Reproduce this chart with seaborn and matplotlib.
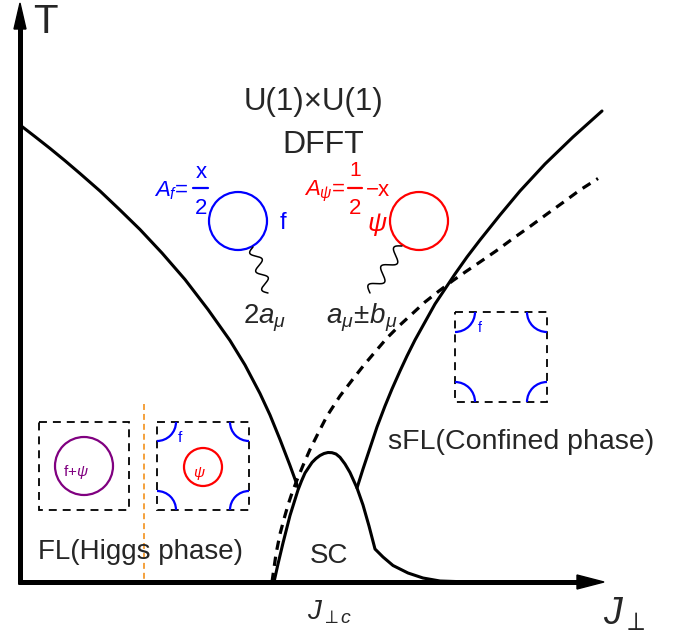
import numpy as np
import pandas as pd
import seaborn as sns
import matplotlib.pyplot as plt
from matplotlib.patches import Circle, Rectangle, Arc, Polygon
plt.switch_backend('agg')

# phase boundaries (pixel coords, y grows downward)
higgs_x = [20, 35, 50, 65, 80, 100, 120, 140, 162, 185, 208, 230, 245, 260, 270, 280, 290, 298]
higgs_y = [125, 136.6, 148.4, 160.7, 173.5, 191, 210, 229.5, 253, 279.5, 309.5, 340.5, 365, 393.5,
           415, 439.5, 465.5, 487.5]
dome_x = [274, 278, 283, 290, 298, 301.5, 305, 312, 316, 320, 324, 328, 332, 336, 340, 345, 350,
          357, 363, 369, 375, 383, 393, 408, 423, 440, 470]
dome_y = [582, 564, 543, 515.5, 490, 481, 473, 462.5, 458.5, 455.5, 453.5, 452.5, 452.7, 454,
          457.3, 464, 472.5, 488, 505, 526, 549, 557, 565.5, 573, 578, 581, 582]
conf_x = [357, 363, 370, 377, 385, 392, 400, 407, 415, 425, 435, 445, 455, 467, 480, 500, 520,
          545, 573, 602]
conf_y = [488, 469, 448, 427, 406, 389, 371, 356, 340, 322, 304, 289, 274, 257, 240, 215, 191,
          164, 137, 111]
cross_x = [272, 276, 280, 284, 288, 292, 297, 303, 310, 318, 327, 340, 353, 364, 375, 387, 400,
           412, 425, 439, 453, 466, 480, 496, 513, 530, 547, 563, 580, 598]
cross_y = [582, 554, 534, 519, 505, 493, 480, 465.5, 449.5, 433.5, 416, 396, 379, 365, 352, 338,
           325, 314, 302, 291, 280.5, 271.5, 262, 251, 238.5, 226.5, 214, 202.5, 190, 178.5]

# fermi surfaces
big_circles = [(238, 221, 29, 'blue'), (419, 221, 29, 'red')]
boxes = [(39, 422, 90, 88), (157, 422, 92, 88), (455, 312, 92, 90)]
box_circles = [(84, 466, 29, 'purple'), (203, 467, 19, 'red')]
pocket_r = [None, 19, 20]

sns.set_theme(style='white')
plt.rcParams['font.family'] = ['Liberation Sans', 'DejaVu Sans']
plt.rcParams['mathtext.fontset'] = 'custom'
plt.rcParams['mathtext.rm'] = 'Liberation Sans'
plt.rcParams['mathtext.it'] = 'Liberation Sans:italic'
plt.rcParams['mathtext.fallback'] = 'stixsans'

fig = plt.figure(figsize=(6.83, 6.39), dpi=100)
ax = fig.add_axes([0, 0, 1, 1])

df_solid = pd.concat([
    pd.DataFrame({'x': higgs_x, 'y': higgs_y, 'curve': 'higgs'}),
    pd.DataFrame({'x': dome_x, 'y': dome_y, 'curve': 'dome'}),
    pd.DataFrame({'x': conf_x, 'y': conf_y, 'curve': 'conf'}),
])
df_dash = pd.DataFrame({'x': cross_x, 'y': cross_y})

# orange separator
ax.plot([144, 144], [404, 584], color='#F39A2E', lw=1.3, ls=(0, (3.3, 2.2)))

sns.lineplot(data=df_solid, x='x', y='y', units='curve', estimator=None, sort=False,
             color='black', lw=2.2, ax=ax)
sns.lineplot(data=df_dash, x='x', y='y', estimator=None, sort=False,
             color='black', lw=2.3, ls=(0, (2.9, 2.2)), ax=ax)

# axes with arrows
ax.plot([20, 20], [584, 26], color='black', lw=3.6, solid_capstyle='butt')
ax.plot([18, 580], [582, 582], color='black', lw=3.6, solid_capstyle='butt')
ax.add_patch(Polygon([[20, 3], [14, 29], [26, 29]], closed=True, color='black'))
ax.add_patch(Polygon([[604, 582], [577, 575], [577, 589]], closed=True, color='black'))
ax.text(45, 22, 'T', fontsize=29, ha='center', va='center')
ax.text(603, 625, r'$J_{\perp}$', fontsize=27, ha='left', va='baseline')
ax.text(307, 619, r'$J_{\perp c}$', fontsize=20, ha='left', va='baseline')

# phase labels
ax.text(313, 102, 'U(1)×U(1)', fontsize=22.5, ha='center', va='center')
ax.text(323, 145, 'DFFT', fontsize=23, ha='center', va='center')
ax.text(521, 442, 'sFL(Confined phase)', fontsize=20.5, ha='center', va='center')
ax.text(141, 552, 'FL(Higgs phase)', fontsize=20, ha='center', va='center')
ax.text(329, 556, 'SC', fontsize=20, ha='center', va='center')

# partons and gauge fields
for cx, cy, r, c in big_circles:
    ax.add_patch(Circle((cx, cy), r, fill=False, ec=c, lw=1.6))
ax.text(283, 223, 'f', color='blue', fontsize=17, ha='center', va='center')
ax.text(377, 225, r'$\psi$', color='red', fontsize=19, ha='center', va='center')

ax.text(154, 191, r'$A_f$=', color='blue', fontsize=16, ha='left', va='center')
ax.text(201, 173, 'x', color='blue', fontsize=16, ha='center', va='center')
ax.plot([193, 208], [187.5, 187.5], color='blue', lw=1.6)
ax.text(201, 209, '2', color='blue', fontsize=16, ha='center', va='center')

ax.text(304, 191, r'$A_\psi$=', color='red', fontsize=16, ha='left', va='center')
ax.text(355, 171, '1', color='red', fontsize=15, ha='center', va='center')
ax.plot([348, 362], [187.5, 187.5], color='red', lw=1.6)
ax.text(355, 209, '2', color='red', fontsize=16, ha='center', va='center')
ax.text(366, 190, '\u2212x', color='red', fontsize=16, ha='left', va='center')


def wavy(p0, p1, periods, amp):
    p0, p1 = np.array(p0, float), np.array(p1, float)
    t = np.linspace(0, 1, 200)
    d = p1 - p0
    nrm = np.array([-d[1], d[0]]) / np.hypot(*d)
    pts = p0 + np.outer(t, d) + np.outer(amp * np.sin(2 * np.pi * periods * t), nrm)
    ax.plot(pts[:, 0], pts[:, 1], color='black', lw=1.1)


wavy((253, 247), (268, 293), 2.5, 5)
wavy((402, 246), (370, 293), 2.5, 6)
ax.text(243, 323, r'$2a_\mu$', fontsize=20, ha='left', va='baseline')
ax.text(326, 323, r'$a_\mu\!\pm\! b_\mu$', fontsize=20, ha='left', va='baseline')

# fermi surface sketches
for (x0, y0, w, h), r in zip(boxes, pocket_r):
    ax.add_patch(Rectangle((x0, y0), w, h, fill=False, ec='black', lw=1.3,
                           ls=(0, (4.4, 3.3))))
    if r:
        x1, y1 = x0 + w, y0 + h
        for (cx, cy), (a1, a2) in zip([(x0, y0), (x1, y0), (x1, y1), (x0, y1)],
                                      [(0, 90), (90, 180), (180, 270), (270, 360)]):
            ax.add_patch(Arc((cx, cy), 2 * r, 2 * r, theta1=a1, theta2=a2,
                             ec='blue', lw=1.6))
for cx, cy, r, c in box_circles:
    ax.add_patch(Circle((cx, cy), r, fill=False, ec=c, lw=1.6))
ax.text(76, 472, r'f+$\psi$', color='purple', fontsize=11, ha='center', va='center')
ax.text(199, 474, r'$\psi$', color='red', fontsize=11, ha='center', va='center')
ax.text(180, 438, 'f', color='blue', fontsize=11, ha='center', va='center')
ax.text(480, 328, 'f', color='blue', fontsize=10, ha='center', va='center')

ax.set_xlim(0, 683)
ax.set_ylim(639, 0)
ax.axis('off')
fig.savefig('out.png', dpi=100)
